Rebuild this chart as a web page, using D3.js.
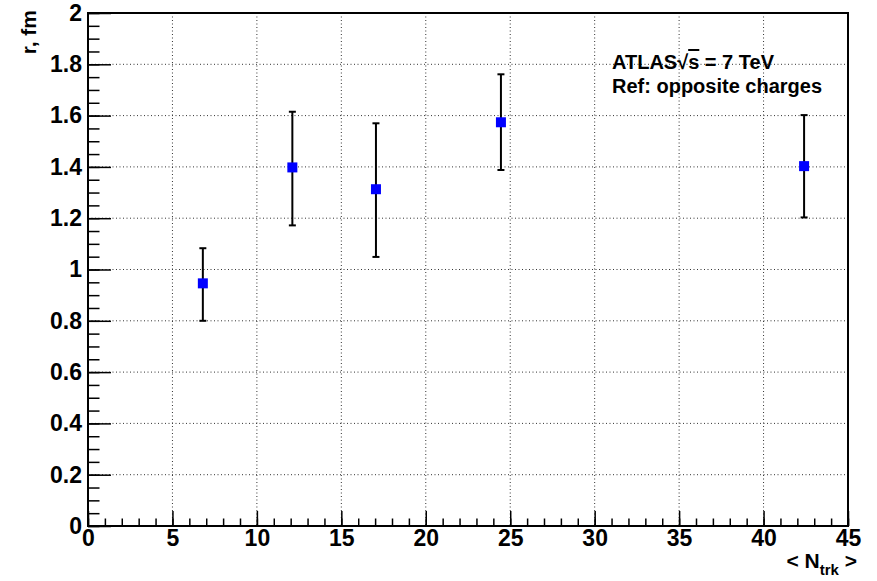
<!DOCTYPE html>
<html>
<head>
<meta charset="utf-8">
<script src="https://cdn.jsdelivr.net/npm/d3@7"></script>
<style>
  body { margin: 0; background: #fff; }
  text { font-family: "Liberation Sans", Arial, sans-serif; font-weight: bold; fill: #000; }
</style>
</head>
<body>
<script>
// data
var nTrk   = [6.8, 12.1, 17.05, 24.45, 42.4]
var rVal   = [0.946, 1.398, 1.313, 1.574, 1.403]
var rLow   = [0.80, 1.172, 1.049, 1.388, 1.203]
var rHigh  = [1.083, 1.615, 1.570, 1.761, 1.602]

var xTicks = [0, 5, 10, 15, 20, 25, 30, 35, 40, 45]
var yTicks = [0, 0.2, 0.4, 0.6, 0.8, 1, 1.2, 1.4, 1.6, 1.8, 2]

var width = 877
var height = 581
var padL = 88, padR = 848, padT = 13, padB = 526

var svg = d3.select("body")
            .append("svg")
            .attr("width", width)
            .attr("height", height)

var xScale = d3.scaleLinear()
               .domain([0, 45])
               .range([padL, padR])

var yScale = d3.scaleLinear()
               .domain([0, 2])
               .range([padB, padT])

// dotted grid
svg.append("g")
   .selectAll("line")
   .data(xTicks.slice(1, -1))
   .enter()
   .append("line")
   .attr("x1", function(d){ return xScale(d) })
   .attr("x2", function(d){ return xScale(d) })
   .attr("y1", padT)
   .attr("y2", padB)
   .attr("stroke", "#333")
   .attr("stroke-width", 1)
   .attr("stroke-dasharray", "1,2.5")

svg.append("g")
   .selectAll("line")
   .data(yTicks.slice(1, -1))
   .enter()
   .append("line")
   .attr("x1", padL)
   .attr("x2", padR)
   .attr("y1", function(d){ return yScale(d) })
   .attr("y2", function(d){ return yScale(d) })
   .attr("stroke", "#333")
   .attr("stroke-width", 1)
   .attr("stroke-dasharray", "1,2.5")

// minor ticks
var xMinor = d3.axisBottom(xScale)
               .tickValues(d3.range(0, 46, 1))
               .tickSizeInner(-7.5)
               .tickSizeOuter(0)
               .tickFormat("")
var yMinor = d3.axisLeft(yScale)
               .tickValues(d3.range(0, 41).map(function(i){ return i * 0.05 }))
               .tickSizeInner(-11.5)
               .tickSizeOuter(0)
               .tickFormat("")

svg.append("g")
   .attr("class", "minor")
   .attr("transform", "translate(0," + padB + ")")
   .call(xMinor)
svg.append("g")
   .attr("class", "minor")
   .attr("transform", "translate(" + padL + ",0)")
   .call(yMinor)

// major axes
var xAxis = d3.axisBottom(xScale)
              .tickValues(xTicks)
              .tickSizeInner(-15)
              .tickSizeOuter(0)
              .tickPadding(4)
              .tickFormat(d3.format("d"))
var yAxis = d3.axisLeft(yScale)
              .tickValues(yTicks)
              .tickSizeInner(-23)
              .tickSizeOuter(0)
              .tickPadding(6)
              .tickFormat(function(d){ return d3.format("~g")(d) })

svg.append("g")
   .attr("class", "axis")
   .attr("transform", "translate(0," + padB + ")")
   .call(xAxis)
svg.append("g")
   .attr("class", "axis")
   .attr("transform", "translate(" + padL + ",0)")
   .call(yAxis)

svg.selectAll(".axis text, .minor text")
   .style("font-size", "23px")
   .attr("fill", "#000")
svg.selectAll(".axis .tick line, .minor .tick line")
   .attr("stroke", "#000")
   .attr("stroke-width", 1.5)
svg.selectAll(".domain").remove()

// frame
svg.append("rect")
   .attr("x", padL)
   .attr("y", padT)
   .attr("width", padR - padL)
   .attr("height", padB - padT)
   .attr("fill", "none")
   .attr("stroke", "#000")
   .attr("stroke-width", 2)

// error bars
var pts = nTrk.map(function(x, i){ return {x: x, y: rVal[i], lo: rLow[i], hi: rHigh[i]} })

var bars = svg.append("g")
bars.selectAll(".err")
    .data(pts)
    .enter()
    .append("line")
    .attr("x1", function(d){ return xScale(d.x) })
    .attr("x2", function(d){ return xScale(d.x) })
    .attr("y1", function(d){ return yScale(d.lo) })
    .attr("y2", function(d){ return yScale(d.hi) })
    .attr("stroke", "#000")
    .attr("stroke-width", 2)
bars.selectAll(".capLo")
    .data(pts)
    .enter()
    .append("line")
    .attr("x1", function(d){ return xScale(d.x) - 3.5 })
    .attr("x2", function(d){ return xScale(d.x) + 3.5 })
    .attr("y1", function(d){ return yScale(d.lo) })
    .attr("y2", function(d){ return yScale(d.lo) })
    .attr("stroke", "#000")
    .attr("stroke-width", 2)
bars.selectAll(".capHi")
    .data(pts)
    .enter()
    .append("line")
    .attr("x1", function(d){ return xScale(d.x) - 3.5 })
    .attr("x2", function(d){ return xScale(d.x) + 3.5 })
    .attr("y1", function(d){ return yScale(d.hi) })
    .attr("y2", function(d){ return yScale(d.hi) })
    .attr("stroke", "#000")
    .attr("stroke-width", 2)

// markers
svg.selectAll(".mark")
   .data(pts)
   .enter()
   .append("rect")
   .attr("x", function(d){ return xScale(d.x) - 5 })
   .attr("y", function(d){ return yScale(d.y) - 5 })
   .attr("width", 10)
   .attr("height", 10)
   .attr("fill", "#0000ff")

// axis titles
svg.append("text")
   .attr("transform", "translate(36," + (padT - 3) + ") rotate(-90)")
   .attr("text-anchor", "end")
   .style("font-size", "21px")
   .text("r, fm")

var xt = svg.append("text")
   .attr("x", 857)
   .attr("y", 568)
   .attr("text-anchor", "end")
   .style("font-size", "21px")
xt.append("tspan").text("<  N")
xt.append("tspan").attr("dy", 7).style("font-size", "15px").text("trk")
xt.append("tspan").attr("dy", -7).text("  >")

// label
var l1 = svg.append("text")
   .attr("x", 612)
   .attr("y", 69)
   .style("font-size", "20px")
l1.append("tspan").text("ATLAS")
l1.append("tspan").text("\u221A")
l1.append("tspan").style("text-decoration", "overline").text("s")
l1.append("tspan").text(" = 7 TeV")

svg.append("text")
   .attr("x", 612)
   .attr("y", 93)
   .style("font-size", "20px")
   .text("Ref: opposite charges")
</script>
</body>
</html>
